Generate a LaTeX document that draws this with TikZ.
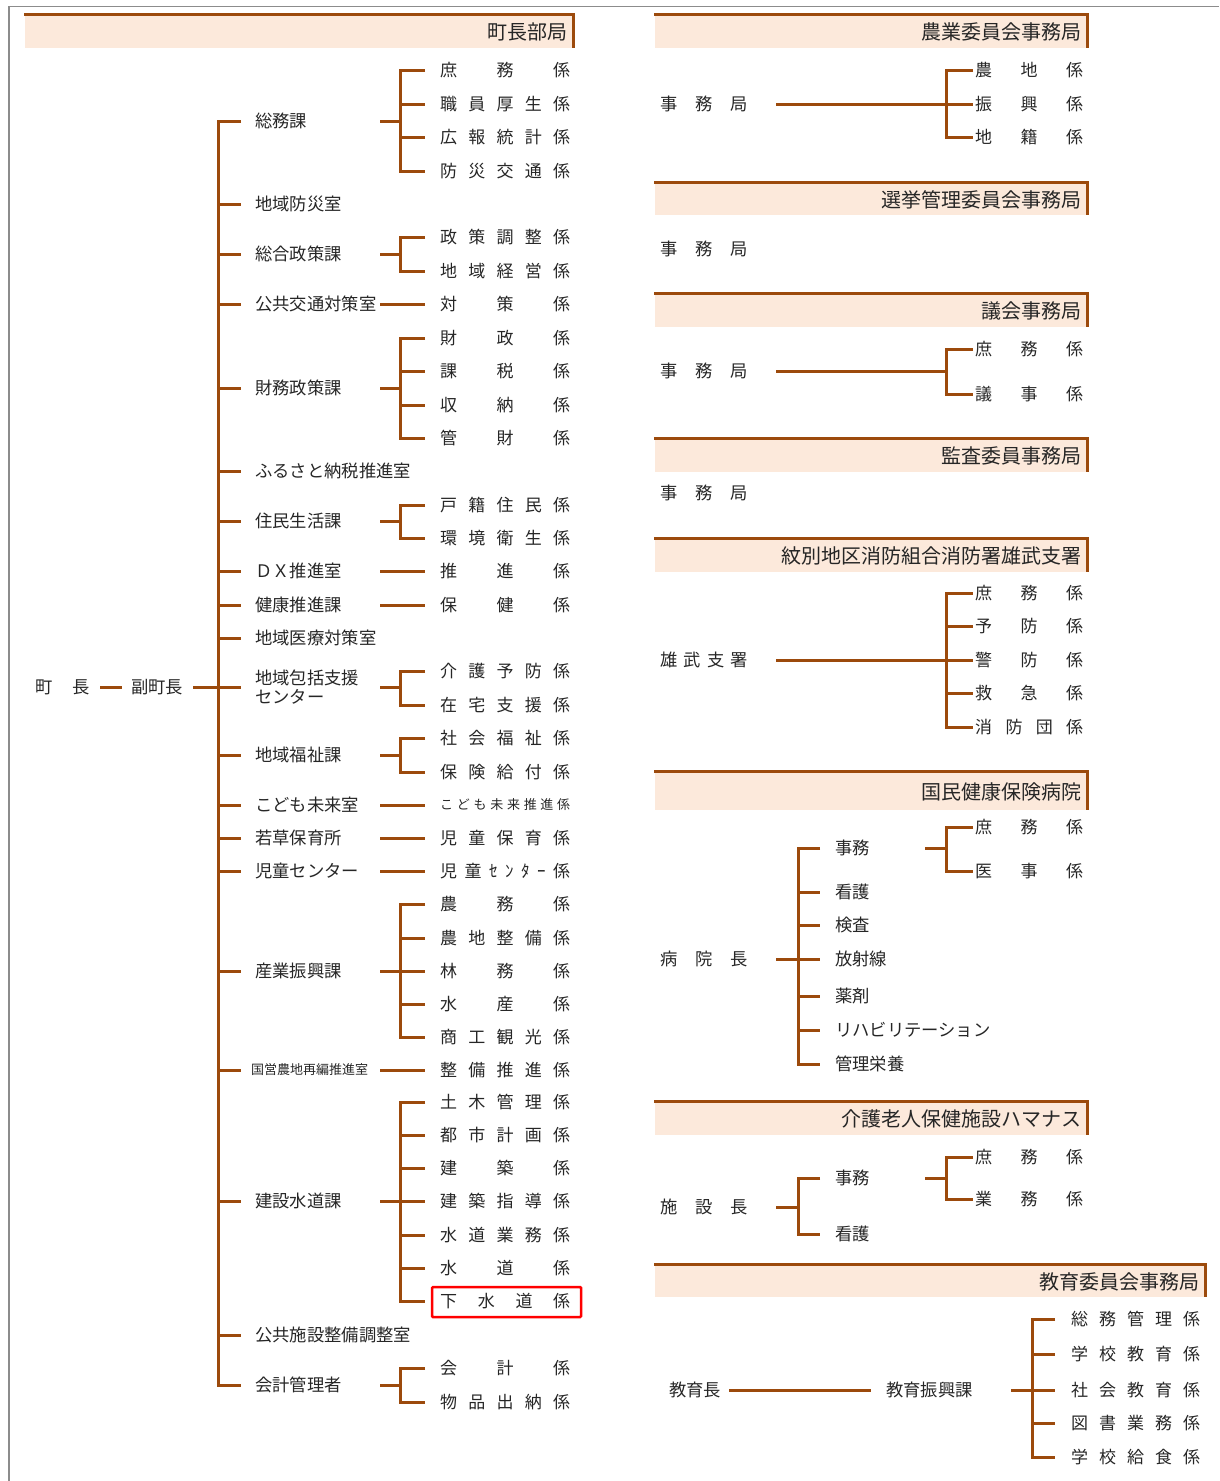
\documentclass[tikz,border=0pt]{standalone}
\usepackage{fontspec}
\setmainfont{Noto Sans CJK JP}
\definecolor{brn}{RGB}{156,74,12}
\definecolor{band}{RGB}{252,233,219}
% spread a section name over a fixed width
\newcommand{\kakari}[2][130pt]{\makebox[#1][s]{#2}}
% parent -> trunk -> children #31 ... #3#4
\newcommand{\kbrack}[5]{%
  \draw[br] (#3.west -| #1) -- (#3.west -| #2);
  \draw[br,shorten <=#5,shorten >=#5] (#31.west) -- (#31.west -| #2) -- (#3#4.west -| #2) -- (#3#4.west);
  \foreach \i in {1,...,#4}
    \draw[br,shorten >=#5] (#3\i.west -| #2) -- (#3\i.west);
}
\begin{document}
\begin{tikzpicture}[x=1pt,y=-1pt,
  br/.style={draw=brn,line width=3pt},
  txt/.style={anchor=west,inner sep=0pt,text=black!85,font=\fontsize{17.3}{19.5}\selectfont},
  kk/.style={txt,font=\fontsize{17}{19}\selectfont},
  htxt/.style={anchor=east,inner sep=0pt,text=black!85,font=\fontsize{20}{22}\selectfont}]
\useasboundingbox (0,0) rectangle (1219,1481);
\draw[black!45,line width=1.3pt] (9,1481) -- (9,6.5) -- (1219,6.5);

% header bands
\foreach \l/\r/\y/\h/\t [count=\i] in {25/573/14/34/町長部局,
    655/1087/14/34/農業委員会事務局, 655/1087/182/33/選挙管理委員会事務局,
    655/1087/293/34/議会事務局, 655/1087/438/34/監査委員事務局,
    655/1087/538/34/紋別地区消防組合消防署雄武支署, 655/1087/771/39/国民健康保険病院,
    655/1087/1101/34/介護老人保健施設ハマナス, 655/1205/1264/33/教育委員会事務局}{
  \fill[band] (\l,\y) rectangle (\r,\y+\h);
  \draw[br] (\l-1,\y) -- (\r,\y) -- (\r,\y+\h);
  \node[htxt] (h\i) at (\r-5,\y+\h/2+1) {\t};
}

% coordinates of the vertical lines
\coordinate (lt) at (218,0);
\coordinate (ld) at (380,0);
\coordinate (ls) at (400,0);
\coordinate (rd) at (776,0);
\coordinate (rs) at (946,0);
\coordinate (hs) at (798,0);
\coordinate (hj) at (925,0);
\coordinate (ed) at (1011,0);
\coordinate (es) at (1032,0);

%%% 町長部局
\node[txt] (chocho) at (35,687) {\makebox[55pt][s]{町 長}};
\node[txt] (fuku) at (131,687) {副町長};
\draw[br,shorten <=10pt,shorten >=9pt] (chocho.east) -- (fuku.west);
\draw[br,shorten <=10pt] (fuku.east) -- (fuku.east -| lt);

\node[txt] (somu) at (255,121) {総務課};
\node[txt] (bosai) at (255,204) {地域防災室};
\node[txt] (seisaku) at (255,254) {総合政策課};
\node[txt] (kotsu) at (255,304) {公共交通対策室};
\node[txt] (zaimu) at (255,388) {財務政策課};
\node[txt] (furusato) at (255,471) {ふるさと納税推進室};
\node[txt] (jumin) at (255,521) {住民生活課};
\node[txt] (dxs) at (255,571) {ＤＸ推進室};
\node[txt] (kenko) at (255,605) {健康推進課};
\node[txt] (iryo) at (255,638) {地域医療対策室};
\node[txt,align=left] (hokatsu) at (255,687) {地域包括支援\\センター};
\node[txt] (fukushi) at (255,755) {地域福祉課};
\node[txt] (kodomo) at (255,805) {こども未来室};
\node[txt] (wakakusa) at (255,838) {若草保育所};
\node[txt] (jido) at (255,871) {児童センター};
\node[txt] (sangyo) at (255,971) {産業振興課};
\node[txt,font=\fontsize{13}{15}\selectfont] (kokuei) at (251,1070) {国営農地再編推進室};
\node[txt] (kensetsu) at (255,1201) {建設水道課};
\node[txt] (kokyo) at (255,1335) {公共施設整備調整室};
\node[txt] (kaikei) at (255,1385) {会計管理者};

\draw[br,shorten <=14pt,shorten >=14pt] (somu.west) -- (somu.west -| lt) -- (kaikei.west -| lt) -- (kaikei.west);
\foreach \n in {bosai,seisaku,kotsu,zaimu,furusato,jumin,dxs,kenko,iryo,hokatsu,
    fukushi,kodomo,wakakusa,jido,sangyo,kensetsu,kokyo}
  \draw[br,shorten >=14pt] (\n.west -| lt) -- (\n.west);
\draw[br,shorten >=10pt] (kokuei.west -| lt) -- (kokuei.west);

% sections
\node[kk] (somu1) at (440,70) {\kakari{庶 務 係}};
\node[kk] (somu2) at (440,104) {\kakari{職 員 厚 生 係}};
\node[kk] (somu3) at (440,137) {\kakari{広 報 統 計 係}};
\node[kk] (somu4) at (440,171) {\kakari{防 災 交 通 係}};
\node[kk] (seisaku1) at (440,237) {\kakari{政 策 調 整 係}};
\node[kk] (seisaku2) at (440,271) {\kakari{地 域 経 営 係}};
\node[kk] (kotsu1) at (440,304) {\kakari{対 策 係}};
\node[kk] (zaimu1) at (440,338) {\kakari{財 政 係}};
\node[kk] (zaimu2) at (440,371) {\kakari{課 税 係}};
\node[kk] (zaimu3) at (440,405) {\kakari{収 納 係}};
\node[kk] (zaimu4) at (440,438) {\kakari{管 財 係}};
\node[kk] (jumin1) at (440,505) {\kakari{戸 籍 住 民 係}};
\node[kk] (jumin2) at (440,538) {\kakari{環 境 衛 生 係}};
\node[kk] (dxs1) at (440,571) {\kakari{推 進 係}};
\node[kk] (kenko1) at (440,605) {\kakari{保 健 係}};
\node[kk] (hokatsu1) at (440,671) {\kakari{介 護 予 防 係}};
\node[kk] (hokatsu2) at (440,705) {\kakari{在 宅 支 援 係}};
\node[kk] (fukushi1) at (440,738) {\kakari{社 会 福 祉 係}};
\node[kk] (fukushi2) at (440,772) {\kakari{保 険 給 付 係}};
\node[kk,font=\fontsize{13}{15}\selectfont] (kodomo1) at (440,805) {\kakari{こ ど も 未 来 推 進 係}};
\node[kk] (wakakusa1) at (440,838) {\kakari{児 童 保 育 係}};
\node[kk] (jido1) at (440,871) {\kakari{児 童 ｾ ﾝ ﾀ ｰ 係}};
\node[kk] (sangyo1) at (440,904) {\kakari{農 務 係}};
\node[kk] (sangyo2) at (440,938) {\kakari{農 地 整 備 係}};
\node[kk] (sangyo3) at (440,971) {\kakari{林 務 係}};
\node[kk] (sangyo4) at (440,1004) {\kakari{水 産 係}};
\node[kk] (sangyo5) at (440,1037) {\kakari{商 工 観 光 係}};
\node[kk] (kokuei1) at (440,1070) {\kakari{整 備 推 進 係}};
\node[kk] (kensetsu1) at (440,1102) {\kakari{土 木 管 理 係}};
\node[kk] (kensetsu2) at (440,1135) {\kakari{都 市 計 画 係}};
\node[kk] (kensetsu3) at (440,1168) {\kakari{建 築 係}};
\node[kk] (kensetsu4) at (440,1201) {\kakari{建 築 指 導 係}};
\node[kk] (kensetsu5) at (440,1235) {\kakari{水 道 業 務 係}};
\node[kk] (kensetsu6) at (440,1268) {\kakari{水 道 係}};
\node[kk] (kensetsu7) at (440,1301) {\kakari{下 水 道 係}};
\node[kk] (kaikei1) at (440,1368) {\kakari{会 計 係}};
\node[kk] (kaikei2) at (440,1402) {\kakari{物 品 出 納 係}};

\kbrack{ld}{ls}{somu}{4}{15pt}
\kbrack{ld}{ls}{seisaku}{2}{15pt}
\kbrack{ld}{ls}{zaimu}{4}{15pt}
\kbrack{ld}{ls}{jumin}{2}{15pt}
\kbrack{ld}{ls}{hokatsu}{2}{15pt}
\kbrack{ld}{ls}{fukushi}{2}{15pt}
\kbrack{ld}{ls}{sangyo}{5}{15pt}
\kbrack{ld}{ls}{kensetsu}{7}{15pt}
\kbrack{ld}{ls}{kaikei}{2}{15pt}
\foreach \n in {kotsu,dxs,kenko,kodomo,wakakusa,jido,kokuei}
  \draw[br,shorten >=15pt] (\n.west -| ld) -- (\n1.west);

\draw[red,line width=2.5pt,rounded corners=1pt] (432,1287) rectangle (581,1317);

%%% 農業委員会事務局
\node[txt] (nj) at (660,104) {\kakari[88pt]{事 務 局}};
\node[kk] (nj1) at (975,70) {\kakari[108pt]{農 地 係}};
\node[kk] (nj2) at (975,104) {\kakari[108pt]{振 興 係}};
\node[kk] (nj3) at (975,137) {\kakari[108pt]{地 籍 係}};
\kbrack{rd}{rs}{nj}{3}{2pt}

%%% 選挙管理委員会事務局
\node[txt] (sj) at (660,249) {\kakari[88pt]{事 務 局}};

%%% 議会事務局
\node[txt] (gj) at (660,371) {\kakari[88pt]{事 務 局}};
\node[kk] (gj1) at (975,349) {\kakari[108pt]{庶 務 係}};
\node[kk] (gj2) at (975,394) {\kakari[108pt]{議 事 係}};
\draw[br] (gj.west -| rd) -- (gj.west -| rs);
\kbrack{rs}{rs}{gj}{2}{2pt}

%%% 監査委員事務局
\node[txt] (kj) at (660,493) {\kakari[88pt]{事 務 局}};

%%% 消防
\node[txt] (ob) at (660,660) {\kakari[88pt]{雄 武 支 署}};
\node[kk] (ob1) at (975,593) {\kakari[108pt]{庶 務 係}};
\node[kk] (ob2) at (975,626) {\kakari[108pt]{予 防 係}};
\node[kk] (ob3) at (975,660) {\kakari[108pt]{警 防 係}};
\node[kk] (ob4) at (975,693) {\kakari[108pt]{救 急 係}};
\node[kk] (ob5) at (975,727) {\kakari[108pt]{消 防 団 係}};
\kbrack{rd}{rs}{ob}{5}{2pt}

%%% 国民健康保険病院
\node[txt] (byo) at (660,959) {\kakari[88pt]{病 院 長}};
\node[txt] (byo1) at (835,848) {事務};
\node[txt] (byo2) at (835,892) {看護};
\node[txt] (byo3) at (835,925) {検査};
\node[txt] (byo4) at (835,959) {放射線};
\node[txt] (byo5) at (835,996) {薬剤};
\node[txt] (byo6) at (835,1030) {リハビリテーション};
\node[txt] (byo7) at (835,1064) {管理栄養};
\kbrack{rd}{hs}{byo}{7}{15pt}
\node[kk] (byo11) at (975,827) {\kakari[108pt]{庶 務 係}};
\node[kk] (byo12) at (975,871) {\kakari[108pt]{医 事 係}};
\kbrack{hj}{rs}{byo1}{2}{2pt}

%%% 介護老人保健施設ハマナス
\node[txt] (shi) at (660,1207) {\kakari[88pt]{施 設 長}};
\node[txt] (shi1) at (835,1178) {事務};
\node[txt] (shi2) at (835,1234) {看護};
\kbrack{rd}{hs}{shi}{2}{15pt}
\node[kk] (shi11) at (975,1157) {\kakari[108pt]{庶 務 係}};
\node[kk] (shi12) at (975,1199) {\kakari[108pt]{業 務 係}};
\kbrack{hj}{rs}{shi1}{2}{2pt}

%%% 教育委員会事務局
\node[txt] (kyo) at (669,1390) {教育長};
\node[txt] (kshin) at (886,1390) {教育振興課};
\draw[br,shorten <=8pt,shorten >=15pt] (kyo.east) -- (kshin.west);
\node[kk] (kshin1) at (1071,1319) {\kakari[129pt]{総 務 管 理 係}};
\node[kk] (kshin2) at (1071,1354) {\kakari[129pt]{学 校 教 育 係}};
\node[kk] (kshin3) at (1071,1390) {\kakari[129pt]{社 会 教 育 係}};
\node[kk] (kshin4) at (1071,1423) {\kakari[129pt]{図 書 業 務 係}};
\node[kk] (kshin5) at (1071,1457) {\kakari[129pt]{学 校 給 食 係}};
\kbrack{ed}{es}{kshin}{5}{16pt}
\end{tikzpicture}
\end{document}
